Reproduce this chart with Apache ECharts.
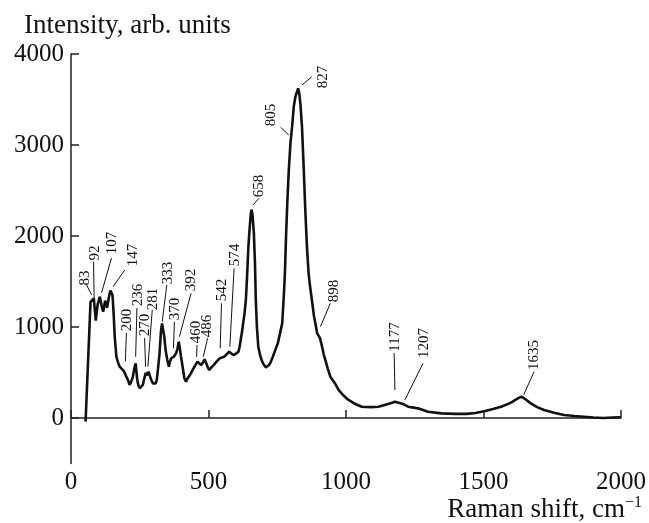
<!DOCTYPE html>
<html>
<head>
<meta charset="utf-8">
<script src="https://cdn.jsdelivr.net/npm/echarts@6/dist/echarts.min.js"></script>
<style>
  html, body { margin: 0; padding: 0; background: #fff; }
  #chart { width: 649px; height: 523px; }
</style>
</head>
<body>
<div id="chart"></div>
<script>
// Raman spectrum (cm-1, arb. units)
const shift = [
    53, 71, 83, 90, 97, 105, 112, 117, 124, 131, 138, 143, 147, 151, 155, 159, 165, 171, 177, 183,
    189, 195, 201, 207, 213, 219, 225, 230, 235, 241, 245, 250, 256, 261, 267, 272, 277, 282, 287, 292,
    298, 304, 308, 312, 317, 322, 327, 331, 335, 339, 344, 350, 356, 360, 364, 369, 374, 378, 382, 387,
    392, 396, 400, 406, 412, 418, 424, 430, 436, 442, 448, 454, 460, 466, 473, 480, 486, 492, 497, 503,
    509, 515, 521, 529, 535, 541, 548, 557, 566, 575, 584, 593, 601, 609, 613, 617, 622, 626, 631, 636,
    640, 645, 650, 654, 657, 660, 665, 669, 672, 676, 681, 687, 693, 700, 708, 714, 720, 727, 734, 742,
    752, 760, 768, 774, 778, 782, 787, 792, 798, 804, 810, 816, 822, 826, 830, 834, 840, 846, 852, 858,
    864, 870, 876, 883, 891, 895, 900, 905, 913, 919, 925, 934, 943, 960, 973, 990, 1009, 1030, 1057, 1090,
    1118, 1150, 1165, 1178, 1195, 1210, 1226, 1262, 1298, 1347, 1400, 1440, 1470, 1503, 1535, 1564, 1590, 1606, 1625, 1638,
    1655, 1672, 1695, 1720, 1760, 1793, 1830, 1865, 1900, 1937, 1970, 1998
];
const intensity = [
    -40, 1275, 1315, 1070, 1250, 1333, 1220, 1168, 1290, 1210, 1330, 1400, 1390, 1350, 1150, 893, 674, 610, 564, 545,
    527, 500, 454, 420, 363, 400, 454, 540, 601, 418, 360, 326, 340, 363, 440, 495, 470, 509, 460, 418,
    380, 363, 380, 418, 560, 711, 950, 1040, 1022, 900, 747, 640, 564, 620, 656, 640, 674, 690, 711, 760,
    838, 760, 674, 560, 440, 400, 436, 460, 490, 527, 560, 590, 619, 600, 582, 610, 645, 600, 560, 527,
    550, 564, 590, 619, 640, 656, 660, 674, 700, 729, 705, 692, 710, 729, 780, 857, 950, 1040, 1150, 1300,
    1540, 1882, 2100, 2250, 2290, 2230, 2029, 1700, 1300, 1000, 784, 700, 637, 590, 557, 570, 582, 620, 674, 740,
    820, 930, 1040, 1350, 1600, 2000, 2400, 2725, 3018, 3201, 3421, 3530, 3586, 3623, 3568, 3458, 3201, 2762, 2286, 1882,
    1590, 1430, 1297, 1130, 1003, 930, 910, 880, 784, 700, 637, 540, 454, 380, 310, 250, 198, 160, 124, 120,
    124, 150, 165, 179, 165, 150, 124, 106, 69, 51, 45, 45, 55, 75, 100, 124, 155, 179, 215, 235,
    200, 161, 120, 88, 55, 33, 22, 14, 5, 0, 5, 8
];

// peak labels: leader line from the curve to the label, then the text centre
const peakNames = ['83', '92', '107', '147', '200', '236', '270', '281', '333', '370', '392',
    '460', '486', '542', '574', '658', '805', '827', '898', '1177', '1207', '1635'];
const leaderFrom = [
    [74.9, 1352], [84.3, 1297], [111, 1374], [153, 1443], [197.8, 619], [235.1, 674], [271.2, 564],
    [279.6, 564], [331.6, 1058], [372.5, 766], [394.2, 893], [456.8, 674], [481, 674], [542.5, 766],
    [577.6, 784], [661.8, 2341], [792, 3110], [840, 3659], [907, 1003], [1178, 308], [1214, 198], [1646, 253]
];
const leaderTo = [
    [56.8, 1462], [82.1, 1718], [147.2, 1758], [195.3, 1626], [201.4, 934], [239.8, 1209], [267.6, 879],
    [295.5, 1187], [348.3, 1462], [376.1, 1058], [436.5, 1370], [458.2, 802], [496.6, 876], [547.2, 1260],
    [593.1, 1645], [683.5, 2414], [762, 3195], [876, 3751], [943, 1260], [1175, 714], [1280, 601], [1684, 509]
];
const labelAt = [
    [50.6, 1538], [86.8, 1813], [148.3, 1923], [224.2, 1791], [202.5, 1077], [242.3, 1352], [267.6, 1022],
    [300.2, 1308], [354.4, 1593], [379.7, 1198], [437.6, 1516], [455.7, 945], [495.5, 1011], [549.7, 1407],
    [596.7, 1791], [683.5, 2549], [727, 3330], [915, 3747], [958, 1396], [1179, 890], [1284, 824], [1685, 692]
];

const xTicks = [0, 500, 1000, 1500, 2000];
const yTicks = [0, 1000, 2000, 3000, 4000];

const font = '"Liberation Serif", "Times New Roman", serif';

const spectrum = shift.map((s, i) => [s, intensity[i]]);
const peaks = peakNames.map((n, i) => [
    leaderFrom[i][0], leaderFrom[i][1], leaderTo[i][0], leaderTo[i][1], labelAt[i][0], labelAt[i][1]
]);

const chart = echarts.init(document.getElementById('chart'), null, {renderer: 'canvas'});

const option = {
    backgroundColor: '#fff',
    animation: false,
    title: [
        {
            text: 'Intensity, arb. units',
            left: 19,
            top: 7,
            textStyle: {fontFamily: font, fontSize: 27, fontWeight: 'normal', color: '#111'},
        },
        {
            text: '{a|Raman shift, cm}{s|−1}',
            right: 2,
            top: 490,
            textStyle: {
                fontWeight: 'normal',
                rich: {
                    a: {fontFamily: font, fontSize: 27, fontWeight: 'normal', color: '#111', lineHeight: 30},
                    s: {fontFamily: font, fontSize: 16, fontWeight: 'normal', color: '#111', verticalAlign: 'top', lineHeight: 30, padding: [0, 0, 13, 0]},
                },
            },
        },
    ],
    grid: {left: 71, top: 54, right: 25, bottom: 59.5, containLabel: false},
    xAxis: {
        type: 'value',
        min: 0,
        max: 2000,
        interval: 500,
        splitLine: {show: false},
        axisLine: {lineStyle: {color: '#222', width: 1.5}},
        axisTick: {inside: true, length: 8, lineStyle: {color: '#222', width: 1.5}, customValues: xTicks},
        axisLabel: {
            customValues: xTicks,
            formatter: (v) => String(v),
            margin: 6,
            fontFamily: font,
            fontSize: 25,
            color: '#111',
        },
    },
    yAxis: {
        type: 'value',
        min: -500,
        max: 4000,
        splitLine: {show: false},
        axisLine: {show: true, lineStyle: {color: '#222', width: 1.5}},
        axisTick: {show: true, inside: true, length: 8, lineStyle: {color: '#222', width: 1.5}, customValues: yTicks},
        axisLabel: {
            customValues: yTicks,
            formatter: (v) => String(v),
            margin: 7,
            fontFamily: font,
            fontSize: 25,
            color: '#111',
        },
    },
    series: [
        {
            type: 'line',
            data: spectrum,
            symbol: 'none',
            lineStyle: {color: '#111', width: 2.6},
            z: 3,
        },
        {
            type: 'custom',
            data: peaks,
            encode: {x: [0, 2, 4], y: [1, 3, 5]},
            renderItem(params, api) {
                const p1 = api.coord([api.value(0), api.value(1)]);
                const p2 = api.coord([api.value(2), api.value(3)]);
                const t = api.coord([api.value(4), api.value(5)]);
                return {
                    type: 'group',
                    children: [
                        {
                            type: 'line',
                            shape: {x1: p1[0], y1: p1[1], x2: p2[0], y2: p2[1]},
                            style: {stroke: '#111', lineWidth: 1},
                        },
                        {
                            type: 'text',
                            x: t[0],
                            y: t[1],
                            rotation: Math.PI / 2,
                            style: {
                                text: peakNames[params.dataIndex],
                                font: '15px ' + font,
                                fill: '#111',
                                align: 'center',
                                verticalAlign: 'middle',
                            },
                        },
                    ],
                };
            },
            z: 4,
        },
    ],
};

chart.setOption(option);
</script>
</body>
</html>
